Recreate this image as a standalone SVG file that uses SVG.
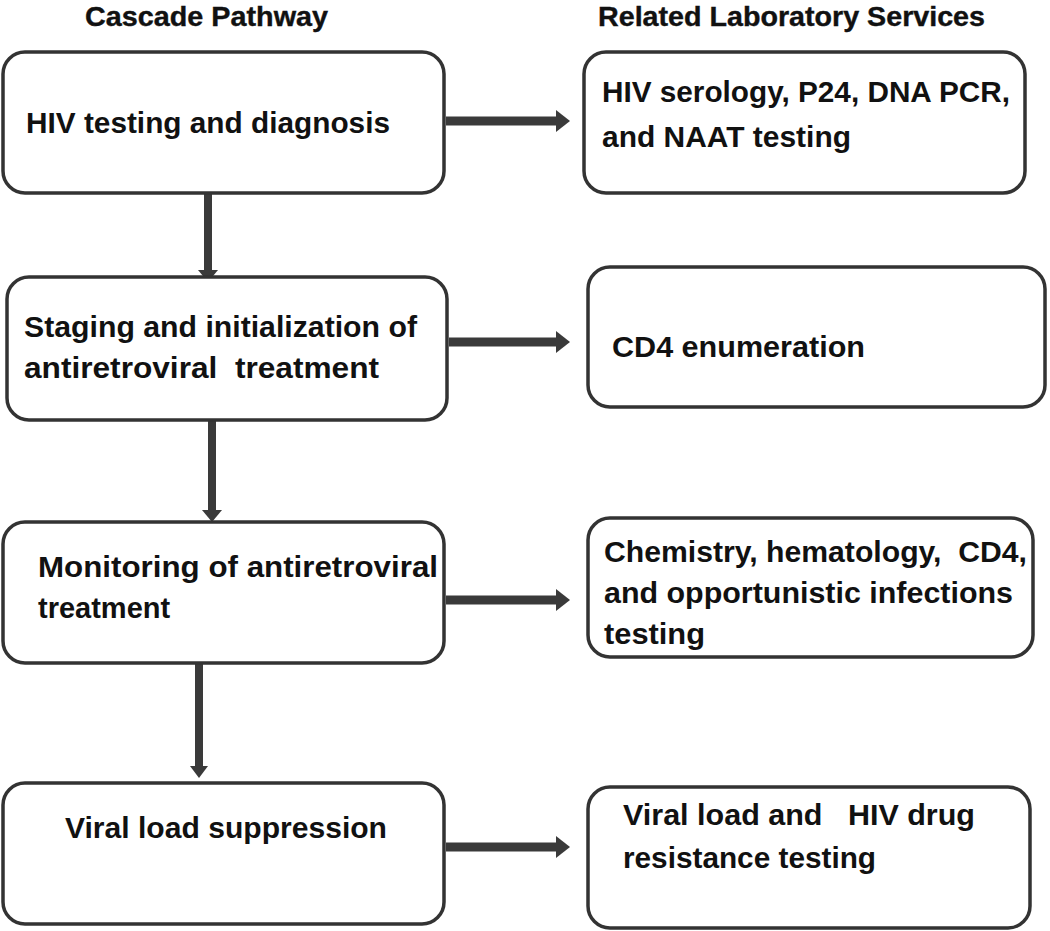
<svg xmlns="http://www.w3.org/2000/svg" width="1050" height="931" viewBox="0 0 1050 931">
<defs>
<style>
.box{fill:#fff;stroke:#333;stroke-width:3.5}
.t{font-family:"Liberation Sans",Arial,sans-serif;font-weight:bold;font-size:29px;fill:#111;white-space:pre}
.h{font-family:"Liberation Sans",Arial,sans-serif;font-weight:bold;font-size:28.5px;fill:#111;stroke:#111;stroke-width:0.4}
.c{stroke:#3a3a3a;fill:none}
.hz{stroke-width:9}
.vt{stroke-width:8}
.hd{fill:#3a3a3a}
</style>
</defs>
<rect width="1050" height="931" fill="#fff"/>
<g id="headers">
<text class="h" x="85" y="26" textLength="243" lengthAdjust="spacingAndGlyphs">Cascade Pathway</text>
<text class="h" x="598" y="26" textLength="387" lengthAdjust="spacingAndGlyphs">Related Laboratory Services</text>
</g>
<g id="connectors">
<line class="c hz" x1="446" y1="121" x2="558" y2="121"/>
<path class="hd" d="M556,110 L570,121 L556,132 Z"/>
<line class="c hz" x1="449" y1="342" x2="558" y2="342"/>
<path class="hd" d="M556,331 L570,342 L556,353 Z"/>
<line class="c hz" x1="446" y1="600" x2="558" y2="600"/>
<path class="hd" d="M556,589 L570,600 L556,611 Z"/>
<line class="c hz" x1="446" y1="847" x2="558" y2="847"/>
<path class="hd" d="M556,836 L570,847 L556,858 Z"/>
<line class="c vt" x1="208" y1="194" x2="208" y2="272"/>
<path class="hd" d="M198,270 L208,282 L218,270 Z"/>
<line class="c vt" x1="212" y1="421" x2="212" y2="512"/>
<path class="hd" d="M202,510 L212,522 L222,510 Z"/>
<line class="c vt" x1="199" y1="661" x2="199" y2="768"/>
<path class="hd" d="M190,766 L199,778 L208,766 Z"/>
</g>
<g id="n1">
<rect class="box" x="3" y="52" width="441" height="141" rx="22"/>
<text class="t" x="26" y="133" textLength="364" lengthAdjust="spacingAndGlyphs">HIV testing and diagnosis</text>
</g>
<g id="n2">
<rect class="box" x="7" y="277" width="440" height="143" rx="22"/>
<text class="t" x="24" y="337" textLength="393" lengthAdjust="spacingAndGlyphs">Staging and initialization of</text>
<text class="t" x="24" y="378" textLength="355" lengthAdjust="spacingAndGlyphs">antiretroviral  treatment</text>
</g>
<g id="n3">
<rect class="box" x="3" y="522" width="441" height="141" rx="22"/>
<text class="t" x="38" y="577" textLength="400" lengthAdjust="spacingAndGlyphs">Monitoring of antiretroviral</text>
<text class="t" x="38" y="618">treatment</text>
</g>
<g id="n4">
<rect class="box" x="3" y="783" width="441" height="141" rx="22"/>
<text class="t" x="65" y="838" textLength="322" lengthAdjust="spacingAndGlyphs">Viral load suppression</text>
</g>
<g id="r1">
<rect class="box" x="584" y="52" width="441" height="141" rx="22"/>
<text class="t" x="602" y="102" textLength="408" lengthAdjust="spacingAndGlyphs">HIV serology, P24, DNA PCR,</text>
<text class="t" x="602" y="147" textLength="249" lengthAdjust="spacingAndGlyphs">and NAAT testing</text>
</g>
<g id="r2">
<rect class="box" x="588" y="267" width="457" height="140" rx="22"/>
<text class="t" x="612" y="357" textLength="253" lengthAdjust="spacingAndGlyphs">CD4 enumeration</text>
</g>
<g id="r3">
<rect class="box" x="588" y="518" width="445" height="139" rx="22"/>
<text class="t" x="604" y="562" textLength="423" lengthAdjust="spacingAndGlyphs">Chemistry, hematology,  CD4,</text>
<text class="t" x="604" y="603" textLength="409" lengthAdjust="spacingAndGlyphs">and opportunistic infections</text>
<text class="t" x="604" y="644" textLength="101" lengthAdjust="spacingAndGlyphs">testing</text>
</g>
<g id="r4">
<rect class="box" x="588" y="787" width="442" height="141" rx="22"/>
<text class="t" x="623" y="825" textLength="352" lengthAdjust="spacingAndGlyphs">Viral load and   HIV drug</text>
<text class="t" x="623" y="868" textLength="253" lengthAdjust="spacingAndGlyphs">resistance testing</text>
</g>
</svg>
